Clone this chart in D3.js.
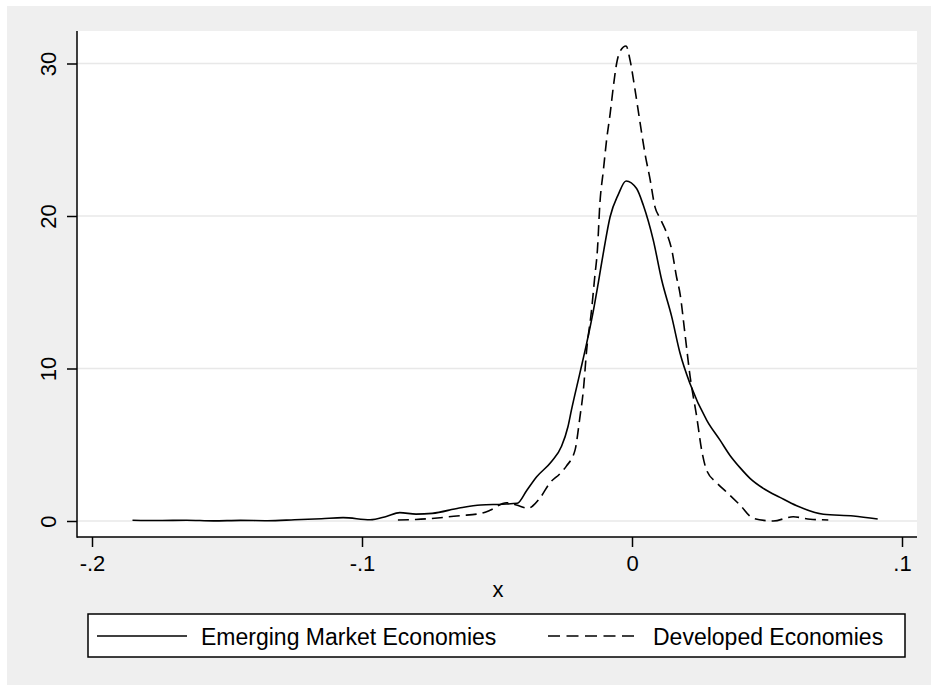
<html>
<head>
    <script src="https://d3js.org/d3.v7.min.js"></script>
    <style>
      body { margin: 0; background: #fff; }
      text { font-family: "Liberation Sans", Arial, sans-serif; fill: #000; }
    </style>
</head>

<body>
<svg width=931 height=688></svg>
<script>
// density estimates
let emX = [-0.185, -0.175, -0.165, -0.155, -0.145, -0.135, -0.125, -0.115, -0.107, -0.097,
           -0.091, -0.086, -0.080, -0.074, -0.064, -0.056, -0.048, -0.0425, -0.039, -0.0353,
           -0.0298, -0.0261, -0.0237, -0.0224, -0.0193, -0.0168, -0.0143, -0.0125, -0.0104, -0.0081,
           -0.0051, -0.0022, 0.0017, 0.0042, 0.0079, 0.011, 0.0147, 0.0178, 0.0215, 0.0277,
           0.0326, 0.0363, 0.040, 0.0437, 0.049, 0.0548, 0.061, 0.0709, 0.082, 0.091]
let emY = [0.05, 0.03, 0.05, 0.01, 0.04, 0.02, 0.08, 0.15, 0.22, 0.08,
           0.3, 0.55, 0.45, 0.5, 0.85, 1.05, 1.1, 1.16, 2.0, 2.9,
           3.9, 4.9, 6.2, 7.3, 9.7, 11.65, 13.8, 15.6, 17.8, 19.95,
           21.4, 22.3, 21.8, 20.7, 18.4, 15.8, 13.4, 11.0, 9.0, 6.6,
           5.3, 4.3, 3.5, 2.8, 2.1, 1.55, 1.0, 0.44, 0.33, 0.13]

let devX = [-0.0867, -0.080, -0.0637, -0.056, -0.0526, -0.0465, -0.0428, -0.0384, -0.0367, -0.0341,
            -0.0304, -0.0267, -0.0243, -0.0211, -0.0193, -0.0180, -0.0168, -0.0150, -0.0138, -0.0128,
            -0.0119, -0.0106, -0.0094, -0.0081, -0.0069, -0.0057, -0.0044, -0.0022, -0.0007, 0.0011,
            0.003, 0.0048, 0.0067, 0.0085, 0.0104, 0.0128, 0.0147, 0.0165, 0.0178, 0.0196,
            0.0215, 0.024, 0.0258, 0.0277, 0.0314, 0.035, 0.040, 0.0449, 0.0523, 0.0597,
            0.066, 0.0727]
let devY = [0.07, 0.1, 0.35, 0.5, 0.7, 1.2, 1.05, 0.83, 1.0, 1.5,
            2.5, 3.1, 3.6, 4.65, 6.8, 8.6, 11.2, 13.8, 16.0, 17.8,
            20.8, 23.0, 25.0, 26.7, 28.5, 30.0, 30.8, 31.15, 30.2, 28.3,
            26.1, 24.1, 22.4, 20.6, 19.85, 18.9, 17.8, 16.0, 14.9, 12.3,
            9.5, 6.8, 4.65, 3.3, 2.5, 1.9, 1.05, 0.18, 0.0, 0.28,
            0.11, 0.07]

let xTicks = [-0.2, -0.1, 0, 0.1],
    xTickLabels = ['-.2', '-.1', '0', '.1'],
    yTicks = [0, 10, 20, 30]
let seriesNames = ['Emerging Market Economies', 'Developed Economies']

let svg = d3.select('svg')
let plot = { left: 77, top: 31, right: 917, bottom: 537 }

let x = d3.scaleLinear().domain([-0.2, 0.1]).range([92, 902])
let y = d3.scaleLinear().domain([0, 30]).range([521, 63.5])

// backgrounds
svg.append('rect').attr('x', 7).attr('y', 6).attr('width', 924).attr('height', 679)
  .style('fill', '#efefef')
svg.append('rect').attr('x', plot.left).attr('y', plot.top)
  .attr('width', plot.right - plot.left).attr('height', plot.bottom - plot.top)
  .style('fill', '#fff')

// gridlines
svg.append('g').selectAll('line').data(yTicks).join('line')
  .attr('x1', plot.left).attr('x2', plot.right)
  .attr('y1', d => y(d)).attr('y2', d => y(d))
  .style('stroke', '#e8e8e8').style('stroke-width', 1.5)

// axes
let xAxis = d3.axisBottom(x).tickValues(xTicks)
  .tickFormat((d, i) => xTickLabels[i]).tickSize(10).tickPadding(8)
let gx = svg.append('g').attr('transform', `translate(0,${plot.bottom})`).call(xAxis)
let yAxis = d3.axisLeft(y).tickValues(yTicks).tickSize(10).tickPadding(8)
let gy = svg.append('g').attr('transform', `translate(${plot.left},0)`).call(yAxis)

gx.select('.domain').remove()
gy.select('.domain').remove()
svg.selectAll('.tick line').style('stroke', '#000').style('stroke-width', 1.5)
gx.selectAll('.tick text').style('font-size', '22px')
  .style('font-family', '"Liberation Sans", Arial, sans-serif').attr('dy', '0.71em')
gy.selectAll('.tick text').style('font-size', '22px')
  .style('font-family', '"Liberation Sans", Arial, sans-serif')
  .attr('transform', d => `rotate(-90, -21, 0)`)
  .attr('x', -21).attr('dy', '0em').attr('y', 0)
  .style('text-anchor', 'middle')

svg.append('line').attr('x1', plot.left).attr('x2', plot.left)
  .attr('y1', plot.top).attr('y2', plot.bottom + 0.75)
  .style('stroke', '#000').style('stroke-width', 1.5)
svg.append('line').attr('x1', plot.left).attr('x2', plot.right)
  .attr('y1', plot.bottom).attr('y2', plot.bottom)
  .style('stroke', '#000').style('stroke-width', 1.5)

svg.append('text').attr('x', 498).attr('y', 597).text('x')
  .style('font-size', '22px').style('text-anchor', 'middle')

// curves
let line = d3.line().x(d => x(d[0])).y(d => y(d[1])).curve(d3.curveMonotoneX)
svg.append('path').datum(d3.zip(emX, emY)).attr('d', line)
  .style('fill', 'none').style('stroke', '#000').style('stroke-width', 1.6)
svg.append('path').datum(d3.zip(devX, devY)).attr('d', line)
  .style('fill', 'none').style('stroke', '#000').style('stroke-width', 1.6)
  .style('stroke-dasharray', '11,6')

// legend
svg.append('rect').attr('x', 88).attr('y', 614).attr('width', 817).attr('height', 43)
  .style('fill', '#fff').style('stroke', '#000').style('stroke-width', 1.5)
let legend = [
  { name: seriesNames[0], x1: 97, x2: 187, tx: 201, dash: null },
  { name: seriesNames[1], x1: 548, x2: 638, tx: 653, dash: '12,6.5' }
]
legend.forEach(l => {
  svg.append('line').attr('x1', l.x1).attr('x2', l.x2).attr('y1', 636).attr('y2', 636)
    .style('stroke', '#000').style('stroke-width', 1.6)
    .style('stroke-dasharray', l.dash)
  svg.append('text').attr('x', l.tx).attr('y', 645).text(l.name)
    .style('font-size', '23px')
})
</script>
</body>
</html>
